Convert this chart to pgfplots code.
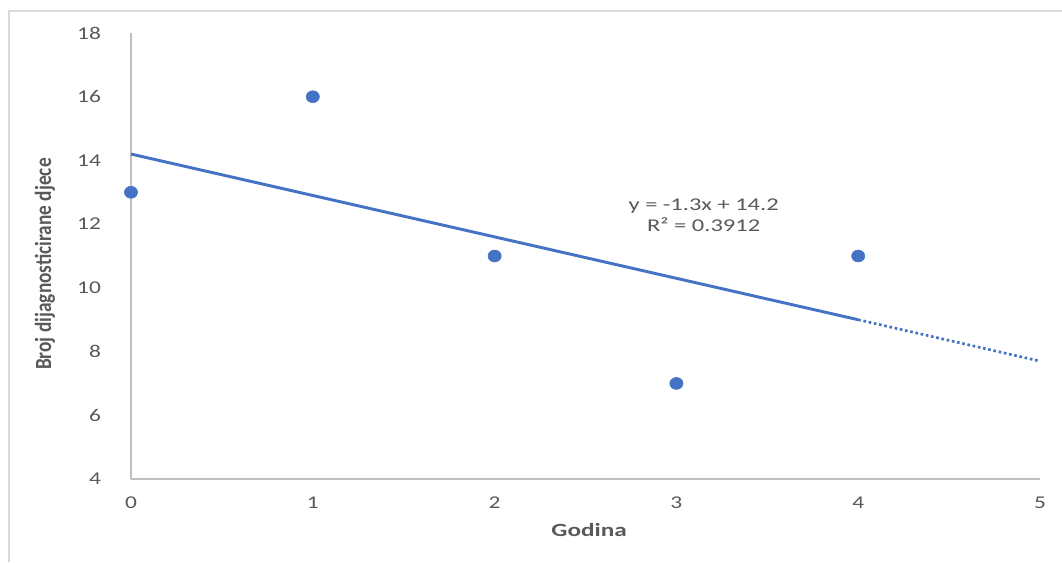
\documentclass[border=0pt]{standalone}
\usepackage{fontspec}
\setmainfont{Carlito}
\usepackage{pgfplots}
\pgfplotsset{compat=1.18}
\definecolor{xlblue}{HTML}{4472C4}
\definecolor{txtgray}{HTML}{595959}
\definecolor{axgray}{HTML}{BFBFBF}
\definecolor{brd}{HTML}{D9D9D9}
\begin{document}
\begin{tikzpicture}
\begin{axis}[
  at={(0,0)}, anchor=south west,
  scale only axis, width=681.75pt, height=334.5pt,
  xmin=0, xmax=5, ymin=4, ymax=18,
  xtick={0,1,2,3,4,5}, ytick={4,6,8,10,12,14,16,18},
  axis lines=left, axis line style={axgray, line width=1.2pt, -},
  tick style={draw=none},
  /pgf/number format/assume math mode=true,
  ticklabel style={font=\fontsize{13.5}{15}\selectfont, text=txtgray, xscale=1.3},
  xticklabel style={anchor=center, yshift=-15.75pt},
  yticklabel style={anchor=east, inner sep=0pt, xshift=-15.5pt},
  xlabel={Godina},
  xlabel style={at={(axis description cs:0.504,-0.114)}, anchor=center, font=\fontsize{14}{16}\selectfont\bfseries, text=txtgray, xscale=1.35},
  ylabel={Broj dijagnosticirane djece},
  ylabel style={at={(axis description cs:-0.0946,0.482)}, anchor=center, font=\fontsize{14.5}{16}\selectfont\bfseries, text=txtgray, yscale=1.2},
  clip=false,
]
\addplot[only marks, mark=*, mark size=4.5pt, mark options={fill=xlblue, draw=xlblue, xscale=1.1}]
  coordinates {(0,13) (1,16) (2,11) (3,7) (4,11)};
\addplot[xlblue, line width=2.2pt] coordinates {(0,14.2) (4,9.0)};
\addplot[xlblue, line width=2pt, dotted] coordinates {(4,9.0) (5,7.7)};
\node[align=center, text=txtgray, font=\fontsize{13.5}{15.5}\selectfont, xscale=1.36] at (axis cs:3.15,12.27) {y = -1.3x + 14.2\\R² = 0.3912};
\end{axis}
\draw[brd, line width=1.5pt] (-91.5pt,-62.25pt) -- (-91.5pt,351pt) -- (698.25pt,351pt);
\pgfresetboundingbox
\useasboundingbox (-98.25pt,-62.25pt) rectangle (698.25pt,359.25pt);
\end{tikzpicture}
\end{document}
